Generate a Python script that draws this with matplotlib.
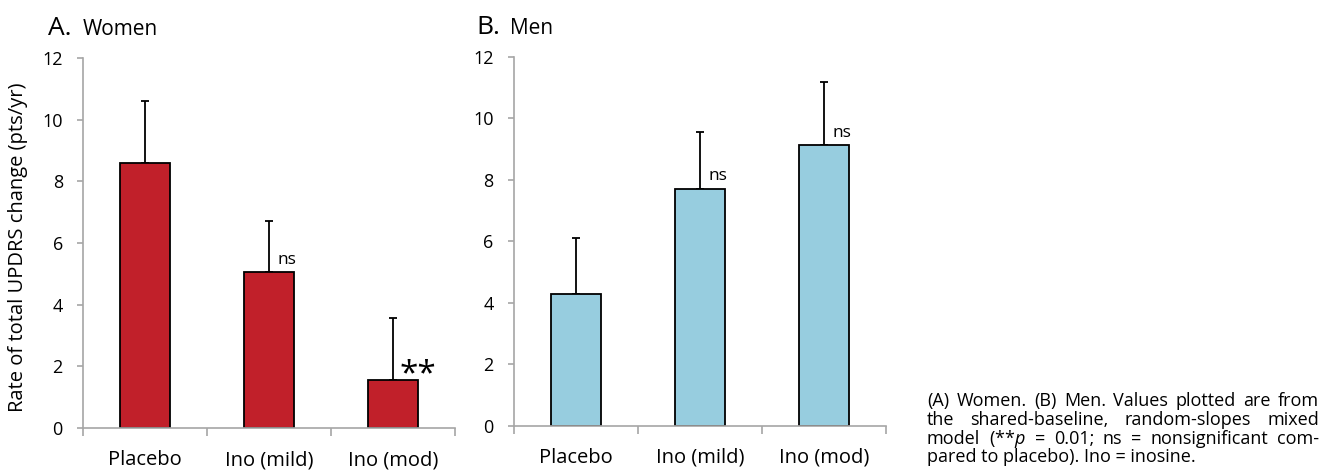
import numpy as np
import matplotlib
matplotlib.use("Agg")
import matplotlib.pyplot as plt

plt.rcParams['font.family'] = ['Open Sans', 'DejaVu Sans']
plt.rcParams['mathtext.fontset'] = 'custom'
plt.rcParams['mathtext.it'] = 'Open Sans:italic'
plt.rcParams['mathtext.rm'] = 'Open Sans'

# ---- data ----
groups = ['Placebo', 'Ino (mild)', 'Ino (mod)']
women_rate = [8.6, 5.05, 1.56]
women_err = [2.0, 1.68, 2.0]
women_marks = ['', 'ns', '**']
men_rate = [4.27, 7.71, 9.12]
men_err = [1.83, 1.84, 2.07]
men_marks = ['', 'ns', 'ns']

caption_lines = [
    "(A) Women. (B) Men. Values plotted are from",
    "the shared-baseline, random-slopes mixed",
    "model (**$\\it{p}$ = 0.01; ns = nonsignificant com-",
    "pared to placebo). Ino = inosine.",
]

RED = '#c1202a'
BLUE = '#97cddf'
GRAY = '#a6a6a6'

fig = plt.figure(figsize=(13.38, 4.73), dpi=100)
axA = fig.add_axes([0.062, 0.095, 0.278, 0.782])
axB = fig.add_axes([0.384, 0.100, 0.278, 0.780])


def draw_panel(ax, vals, errs, marks, color, letter, name, lx, nx):
    x = np.arange(len(groups))
    ax.bar(x, vals, width=0.4, color=color, edgecolor='black', linewidth=1.3, zorder=2)
    ax.errorbar(x, vals, yerr=[np.zeros(len(vals)), errs], fmt='none', ecolor='black',
                elinewidth=1.3, capsize=3, capthick=1.3, zorder=1)
    for xi, v, m in zip(x, vals, marks):
        if m == 'ns':
            ax.annotate(m, (xi, v), xytext=(6, 3), textcoords='offset points',
                        ha='left', va='bottom', fontsize=12.5)
        elif m == '**':
            ax.annotate(m, (xi, v), xytext=(5, -8), textcoords='offset points',
                        ha='left', va='bottom', fontsize=24)
    ax.set_xlim(-0.5, 2.5)
    ax.set_ylim(0, 12)
    ax.set_yticks(range(0, 13, 2))
    ax.set_xticks(x)
    ax.set_xticklabels(groups)
    ax.set_xticks([-0.5, 0.5, 1.5, 2.5], minor=True)
    ax.tick_params(axis='x', which='major', length=0, labelsize=14.5, pad=16)
    ax.tick_params(axis='x', which='minor', length=6, color=GRAY, width=1.2)
    ax.tick_params(axis='y', length=4.5, color=GRAY, width=1.2, labelsize=13, pad=10)
    for s in ['top', 'right']:
        ax.spines[s].set_visible(False)
    for s in ['left', 'bottom']:
        ax.spines[s].set_color(GRAY)
        ax.spines[s].set_linewidth(1.2)
    ax.text(lx, 1.062, letter, transform=ax.transAxes, fontsize=19, ha='left', va='baseline')
    ax.text(nx, 1.062, name, transform=ax.transAxes, fontsize=15, ha='left', va='baseline')


draw_panel(axA, women_rate, women_err, women_marks, RED, 'A.', 'Women', -0.094, 0.0)
draw_panel(axB, men_rate, men_err, men_marks, BLUE, 'B.', 'Men', -0.10, -0.01)
axA.set_ylabel('Rate of total UPDRS change (pts/yr)', fontsize=14.5)
axA.yaxis.set_label_coords(-0.148, 0.49)

# ---- justified caption ----
fig.canvas.draw()
renderer = fig.canvas.get_renderer()
cap_left, cap_right = 927, 1319
line_y = [401, 420, 439, 457]
cap_size = 13
H = fig.bbox.height
W = fig.bbox.width
for i, line in enumerate(caption_lines):
    words = line.split(' ')
    y = 1 - line_y[i] / H
    if i == len(caption_lines) - 1:
        fig.text(cap_left / W, y, line, fontsize=cap_size, ha='left', va='center')
        continue
    widths = []
    for w in words:
        t = fig.text(0, 0, w, fontsize=cap_size)
        widths.append(t.get_window_extent(renderer).width)
        t.remove()
    gap = (cap_right - cap_left - sum(widths)) / (len(words) - 1)
    xpos = cap_left
    for w, wd in zip(words, widths):
        fig.text(xpos / W, y, w, fontsize=cap_size, ha='left', va='center')
        xpos += wd + gap

fig.savefig('out.png', dpi=100)
